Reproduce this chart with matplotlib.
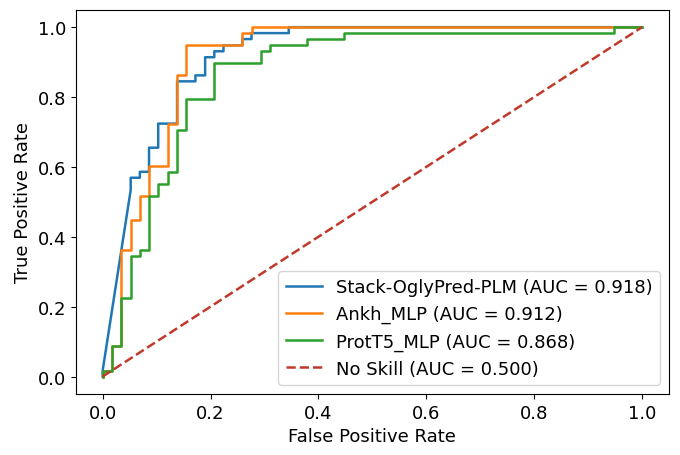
import matplotlib
matplotlib.use('Agg')
import matplotlib.pyplot as plt
import numpy as np

plt.rcParams['font.size'] = 13

# ROC points (58 positives / 58 negatives)
stack_fpr = [0, 0, 0.052, 0.052, 0.069, 0.069, 0.086, 0.086, 0.103, 0.103, 0.121, 0.138,
             0.138, 0.172, 0.172, 0.190, 0.190, 0.207, 0.207, 0.224, 0.224, 0.259, 0.259,
             0.276, 0.276, 0.345, 0.345, 1.0]
stack_tpr = [0, 0.017, 0.534, 0.569, 0.569, 0.586, 0.586, 0.655, 0.655, 0.724, 0.724, 0.724,
             0.845, 0.845, 0.862, 0.862, 0.914, 0.914, 0.931, 0.931, 0.948, 0.948, 0.966,
             0.966, 0.983, 0.983, 1.0, 1.0]

ankh_fpr = [0, 0, 0.017, 0.017, 0.034, 0.034, 0.052, 0.052, 0.069, 0.069, 0.086, 0.086,
            0.121, 0.121, 0.138, 0.138, 0.155, 0.155, 0.259, 0.259, 0.276, 0.276, 1.0]
ankh_tpr = [0, 0.017, 0.017, 0.086, 0.086, 0.362, 0.362, 0.448, 0.448, 0.517, 0.517, 0.603,
            0.603, 0.724, 0.724, 0.862, 0.862, 0.948, 0.948, 0.983, 0.983, 1.0, 1.0]

prot_fpr = [0, 0, 0.017, 0.017, 0.034, 0.034, 0.052, 0.052, 0.069, 0.069, 0.086, 0.086,
            0.103, 0.103, 0.121, 0.121, 0.138, 0.138, 0.155, 0.155, 0.207, 0.207, 0.293,
            0.293, 0.310, 0.310, 0.379, 0.379, 0.448, 0.448, 0.948, 0.948, 1.0]
prot_tpr = [0, 0.017, 0.017, 0.086, 0.086, 0.224, 0.224, 0.345, 0.345, 0.362, 0.362, 0.517,
            0.517, 0.552, 0.552, 0.586, 0.586, 0.707, 0.707, 0.793, 0.793, 0.897, 0.897,
            0.931, 0.931, 0.948, 0.948, 0.966, 0.966, 0.983, 0.983, 1.0, 1.0]

skill_x = [0, 1]
skill_y = [0, 1]

labels = ['Stack-OglyPred-PLM (AUC = 0.918)', 'Ankh_MLP (AUC = 0.912)',
          'ProtT5_MLP (AUC = 0.868)', 'No Skill (AUC = 0.500)']

fig = plt.figure(figsize=(6.8, 4.56), dpi=100)
ax = fig.add_axes([0.1113, 0.1338, 0.8725, 0.8427])

ax.plot(stack_fpr, stack_tpr, color='tab:blue', lw=1.8, label=labels[0])
ax.plot(ankh_fpr, ankh_tpr, color='tab:orange', lw=1.8, label=labels[1])
ax.plot(prot_fpr, prot_tpr, color='tab:green', lw=1.8, label=labels[2])
ax.plot(skill_x, skill_y, color='#c0392b', ls='--', lw=1.8, label=labels[3])

ax.set_xlabel('False Positive Rate')
ax.set_ylabel('True Positive Rate')
ax.legend(loc='lower right')

fig.savefig('out.png', dpi=100)
